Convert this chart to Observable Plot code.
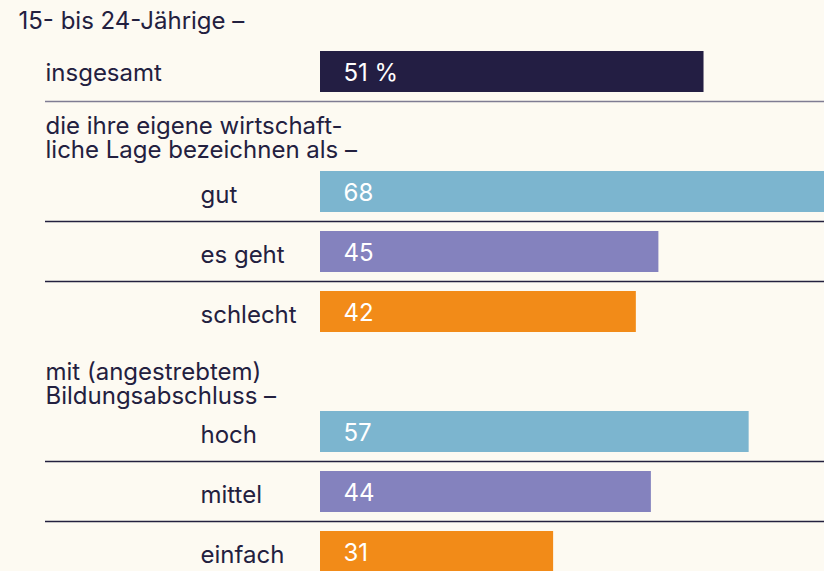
<!DOCTYPE html>
<html>
<head>
<meta charset="utf-8">
<script src="https://cdn.jsdelivr.net/npm/d3@7"></script>
<script src="https://cdn.jsdelivr.net/npm/@observablehq/plot@0.6"></script>
<style>
  html, body { margin: 0; padding: 0; background: #fdfaf2; overflow: hidden; }
  #chart svg { display: block; max-width: none; }
</style>
</head>
<body>
<div id="chart"></div>
<script>
const title = "15- bis 24-Jährige –";
const headings = ["die ihre eigene wirtschaft-\nliche Lage bezeichnen als –", "mit (angestrebtem)\nBildungsabschluss –"];
const categories = ["insgesamt", "gut", "es geht", "schlecht", "hoch", "mittel", "einfach"];
const values = [51, 68, 45, 42, 57, 44, 31];
const valueLabels = ["51 %", "68", "45", "42", "57", "44", "31"];
const colorKeys = ["gesamt", "gut", "mittel", "schlecht", "gut", "mittel", "schlecht"];
const lightSeparators = ["insgesamt"];
const darkSeparators = ["gut", "es geht", "hoch", "mittel"];

const rowOrder = [title, "insgesamt", headings[0], "gut", "es geht", "schlecht", headings[1], "hoch", "mittel", "einfach"];
const bars = categories.map((c, i) => ({category: c, value: values[i], label: valueLabels[i], key: colorKeys[i]}));

const ink = "#23203f";
const font = "Inter, 'Noto Sans', sans-serif";

const chart = Plot.plot({
  width: 824,
  height: 571,
  marginLeft: 18,
  marginRight: 0,
  marginTop: 0,
  marginBottom: 0,
  style: {background: "#fdfaf2", fontFamily: font, fontSize: "24px", color: ink, overflow: "hidden"},
  x: {domain: [0, 68], range: [320, 320 + 68 * 7.52], axis: null},
  y: {type: "band", domain: rowOrder, range: [-19, 581], paddingInner: 0.317, paddingOuter: 0.1585, axis: null},
  color: {domain: ["gesamt", "gut", "mittel", "schlecht"], range: ["#231e43", "#7cb5cf", "#8482be", "#f28b18"]},
  marks: [
    Plot.barX(bars, {y: "category", x: "value", fill: "key"}),
    Plot.ruleY(lightSeparators, {y: d => d, dy: 29.5, stroke: "#7f7c93", strokeWidth: 1.5, insetLeft: 27}),
    Plot.ruleY(darkSeparators, {y: d => d, dy: 29.5, stroke: ink, strokeWidth: 1.3, insetLeft: 27}),
    Plot.text(bars, {y: "category", x: 0, text: "label", dx: 23, dy: 1, textAnchor: "start", fill: "white", fontSize: 24}),
    Plot.text(bars.slice(0, 1), {y: "category", frameAnchor: "left", text: "category", dx: 27, dy: 1, textAnchor: "start", fill: ink, fontSize: 24}),
    Plot.text(bars.slice(1), {y: "category", frameAnchor: "left", text: "category", dx: 182, dy: 3, textAnchor: "start", fill: ink, fontSize: 24}),
    Plot.text([title], {y: d => d, text: d => d, frameAnchor: "left", dy: 9, textAnchor: "start", fill: ink, fontSize: 24}),
    Plot.text(headings.slice(0, 1), {y: d => d, text: d => d, frameAnchor: "left", dx: 27, dy: 6, lineHeight: 1.0, textAnchor: "start", fill: ink, fontSize: 24}),
    Plot.text(headings.slice(1), {y: d => d, text: d => d, frameAnchor: "left", dx: 27, dy: 12, lineHeight: 1.0, textAnchor: "start", fill: ink, fontSize: 24})
  ]
});
document.getElementById("chart").append(chart);
</script>
</body>
</html>
